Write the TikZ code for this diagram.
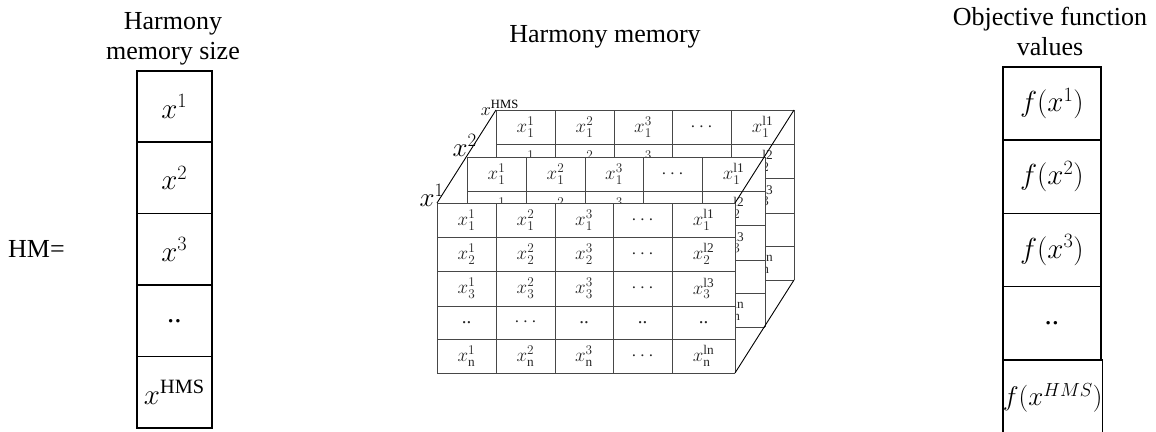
\RequirePackage{fix-cm}
\documentclass[tikz,border=0pt]{standalone}
\usepackage{fontspec}
\setmainfont{Liberation Serif}
\tikzset{
  ttl/.style={font=\fontsize{26}{30}\selectfont, align=center, inner sep=0pt},
  colcell/.style={draw, line width=1.6pt, inner sep=0pt, anchor=north west,
    font=\fontsize{29}{33}\selectfont},
  hmcell/.style={colcell, minimum width=75pt, minimum height=71.4pt},
  ofcell/.style={colcell, minimum width=98pt, minimum height=73.25pt},
  tline/.style={draw=black!72, line width=0.9pt},
  tcell/.style={inner sep=0pt, text=black!85, font=\fontsize{19}{22}\selectfont},
  diag/.style={draw=black, line width=0.9pt},
  lbl/.style={inner sep=0pt, font=\fontsize{27}{30}\selectfont},
  lblsmall/.style={inner sep=0pt, font=\fontsize{18}{20}\selectfont},
}
% grid of one layer (front layer coordinates, shifted by the scope)
\newcommand{\hmgrid}[1]{%
  \fill[white] (437,203) rectangle (735,373);
  \foreach \yy in {203,237,271,306,339,373} \draw[tline] (437,\yy) -- (735,\yy);
  \foreach \xx in {437,496,555,613,672,735} \draw[tline] (\xx,203) -- (\xx,373);
  \coordinate (#1-tl) at (437,203);
  \coordinate (#1-tr) at (735,203);
  \coordinate (#1-br) at (735,373);
}
\newcommand{\hmrow}[8]{%
  \node[tcell] (#1-#2-1) at (466.5,#3) {#4};
  \node[tcell] (#1-#2-2) at (525.5,#3) {#5};
  \node[tcell] (#1-#2-3) at (584,#3) {#6};
  \node[tcell] (#1-#2-4) at (642.5,#3) {#7};
  \node[tcell] (#1-#2-5) at (703.5,#3) {#8};
}
% a layer lying behind: only the parts that stay in sight
\newcommand{\hmback}[3]{%
  \begin{scope}[shift={(#1,#2)}]
    \hmgrid{#3}
    \hmrow{#3}{1}{220}{$x_1^1$}{$x_1^2$}{$x_1^3$}{$\cdots$}{$x_1^{\mathrm{l1}}$}
    \node[tcell] (#3-2-1) at (466.5,254) {$x_2^1$};
    \node[tcell] (#3-2-2) at (525.5,254) {$x_2^2$};
    \node[tcell] (#3-2-3) at (584,254) {$x_2^3$};
    \node[tcell] (#3-2-5) at (703.5,254) {$x_2^{\mathrm{l2}}$};
    \node[tcell] (#3-3-5) at (703.5,288.5) {$x_3^{\mathrm{l3}}$};
    \node[tcell] (#3-5-5) at (703.5,356) {$x_{\mathrm{n}}^{\mathrm{ln}}$};
  \end{scope}
}
\begin{document}
\begin{tikzpicture}[x=1pt,y=-1pt]
\useasboundingbox (0,0) rectangle (1156,431);
% titles
\node[ttl, anchor=north] (t-hms) at (173,12.5) {Harmony\\memory size};
\node[ttl, anchor=north] (t-hm) at (605,25) {Harmony memory};
\node[ttl, anchor=north] (t-of) at (1050,7) {Objective function\\values};
\node[ttl, anchor=base west] (hmeq) at (8,257) {HM=};
% left column
\node[hmcell] (h1) at (136,70) {$x^1$};
\node[hmcell] (h2) at (136,141.4) {$x^2$};
\node[hmcell] (h3) at (136,212.8) {$x^3$};
\node[hmcell] (h4) at (136,284.2) {..};
\node[hmcell] (h5) at (136,355.6) {$x^{\mathrm{HMS}}$};
% right column
\node[ofcell] (f1) at (1002,66) {$f(x^1)$};
\node[ofcell] (f2) at (1002,139.25) {$f(x^2)$};
\node[ofcell] (f3) at (1002,212.5) {$f(x^3)$};
\node[ofcell] (f4) at (1002,285.75) {..};
\node[ofcell, minimum height=76pt, font=\fontsize{27}{30}\selectfont] (f5) at (1002,359) {$f(x^{HMS})$};
% 3D harmony memory
\hmback{59}{-93}{B}
\hmback{30}{-46}{M}
\hmgrid{F}
\hmrow{F}{1}{220}{$x_1^1$}{$x_1^2$}{$x_1^3$}{$\cdots$}{$x_1^{\mathrm{l1}}$}
\hmrow{F}{2}{254}{$x_2^1$}{$x_2^2$}{$x_2^3$}{$\cdots$}{$x_2^{\mathrm{l2}}$}
\hmrow{F}{3}{288.5}{$x_3^1$}{$x_3^2$}{$x_3^3$}{$\cdots$}{$x_3^{\mathrm{l3}}$}
\hmrow{F}{4}{322.5}{..}{$\cdots$}{..}{..}{..}
\hmrow{F}{5}{356}{$x_{\mathrm{n}}^1$}{$x_{\mathrm{n}}^2$}{$x_{\mathrm{n}}^3$}{$\cdots$}{$x_{\mathrm{n}}^{\mathrm{ln}}$}
\draw[diag] (F-tl) -- (B-tl);
\draw[diag] (F-tr) -- (B-tr);
\draw[diag] (F-br) -- (B-br);
\node[lbl, anchor=base east] (lx1) at (444,206) {$x^1$};
\node[lbl, anchor=base east] (lx2) at (477,156) {$x^2$};
\node[lblsmall, anchor=base east] (lxh) at (519,115) {$x^{\mathrm{HMS}}$};
\end{tikzpicture}
\end{document}
